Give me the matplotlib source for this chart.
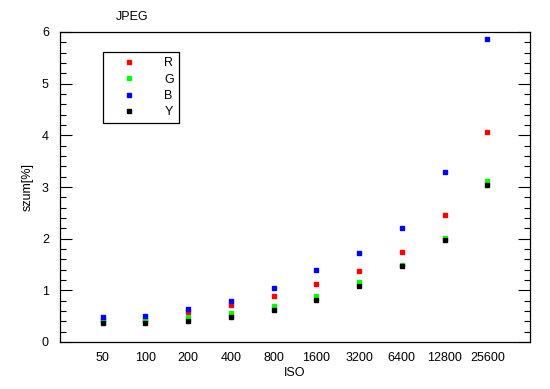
import numpy as np
import matplotlib.pyplot as plt
from matplotlib.ticker import MultipleLocator

plt.rcParams['font.family'] = ['Liberation Sans', 'DejaVu Sans']

iso = ['50', '100', '200', '400', '800', '1600', '3200', '6400', '12800', '25600']
r = [0.42, 0.42, 0.58, 0.72, 0.89, 1.12, 1.37, 1.74, 2.46, 4.06]
g = [0.43, 0.43, 0.48, 0.56, 0.70, 0.89, 1.16, 1.50, 2.01, 3.12]
b = [0.48, 0.50, 0.64, 0.79, 1.045, 1.39, 1.72, 2.21, 3.29, 5.86]
y = [0.36, 0.37, 0.41, 0.48, 0.62, 0.81, 1.08, 1.47, 1.97, 3.04]

fig = plt.figure(figsize=(5.5, 3.89), dpi=100)
ax = fig.add_axes([60/550, 1-342/389, 470/550, 310/389])

x = np.arange(1, len(iso) + 1)
for vals, col, lab in [(r, '#ff0000', 'R'), (g, '#00ff00', 'G'), (b, '#0000ff', 'B'), (y, '#000000', 'Y')]:
    ax.plot(x, vals, 's', color=col, ms=3.4, mec=col, label=lab)

ax.set_xlim(0, 11)
ax.set_ylim(0, 6)
ax.set_xticks(x)
ax.set_xticklabels(iso)
ax.tick_params(axis='x', length=0, labelsize=9, pad=7)
ax.yaxis.set_major_locator(MultipleLocator(1))
ax.yaxis.set_minor_locator(MultipleLocator(0.2))
ax.tick_params(axis='y', which='both', direction='in', left=True, right=True, labelsize=9, pad=8)
ax.tick_params(axis='y', which='major', length=8.5, width=0.8)
ax.tick_params(axis='y', which='minor', length=4.5, width=0.8)
for s in ax.spines.values():
    s.set_linewidth(0.9)

ax.set_xlabel('ISO', fontsize=9, labelpad=2)
ax.set_ylabel('szum[%]', fontsize=9, labelpad=6)
fig.text(132/550, 1-17/389, 'JPEG', fontsize=9, ha='center', va='center')

leg = ax.legend(loc='upper left', bbox_to_anchor=(0.092, 0.935), fontsize=9,
                frameon=True, fancybox=False, edgecolor='black', borderpad=0.4,
                handlelength=3.4, handletextpad=1.1, labelspacing=0.35,
                borderaxespad=0, framealpha=1)
leg.get_frame().set_linewidth(0.9)

fig.savefig('out.png', dpi=100)
